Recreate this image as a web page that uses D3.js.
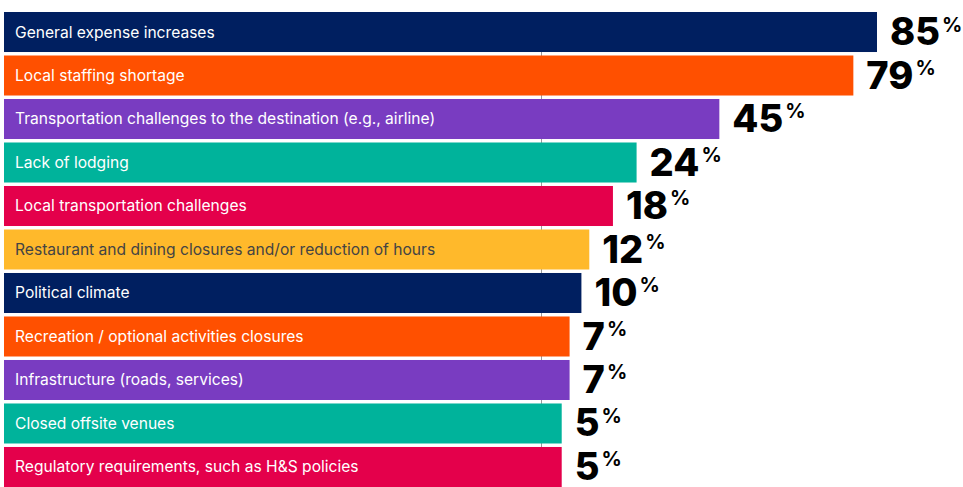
<!DOCTYPE html>
<html>
<head>
<meta charset="utf-8">
<script src="https://cdn.jsdelivr.net/npm/d3@7"></script>
<style>
  html, body { margin: 0; padding: 0; background: #fff; }
  svg { display: block; }
</style>
</head>
<body>
<svg id="chart" width="963" height="487"></svg>
<script>
// Share of respondents naming each challenge
const categories = [
  "General expense increases",
  "Local staffing shortage",
  "Transportation challenges to the destination (e.g., airline)",
  "Lack of lodging",
  "Local transportation challenges",
  "Restaurant and dining closures and/or reduction of hours",
  "Political climate",
  "Recreation / optional activities closures",
  "Infrastructure (roads, services)",
  "Closed offsite venues",
  "Regulatory requirements, such as H&S policies"
];
const values = [85, 79, 45, 24, 18, 12, 10, 7, 7, 5, 5];
const palette = ["#001F60", "#FF5000", "#793CC1", "#00B39B", "#E4004B", "#FFB92B"];
const barColors = [0, 1, 2, 3, 4, 5, 0, 1, 2, 3, 4].map(i => palette[i]);

const W = 963, H = 487;
const svg = d3.select("#chart");

const barLeft = 4;          // bars start under their own labels
const y = d3.scaleBand()
  .domain(categories)
  .range([12, 487])
  .paddingInner(0.08)
  .paddingOuter(0);

// value axis: zero sits past the label zone
const x = d3.scaleLinear().domain([0, 85]).range([542, 877]);

// zero reference line
svg.append("line")
  .attr("x1", Math.round(x(0)) - 0.5).attr("x2", Math.round(x(0)) - 0.5)
  .attr("y1", y.range()[0]).attr("y2", H)
  .attr("stroke", "#9a9a9a").attr("stroke-width", 1);

const rows = svg.selectAll("g.row")
  .data(categories.map((c, i) => ({ c, v: values[i], color: barColors[i] })))
  .join("g").attr("class", "row")
  .attr("transform", d => `translate(0,${y(d.c)})`);

rows.append("rect")
  .attr("x", barLeft)
  .attr("y", 0)
  .attr("height", y.bandwidth())
  .attr("width", d => x(d.v) - barLeft)
  .attr("fill", d => d.color);

rows.append("text")
  .attr("x", 15)
  .attr("y", y.bandwidth() / 2 + 5.5)
  .attr("font-family", "Inter, 'Noto Sans', sans-serif")
  .attr("font-size", 15.6)
  .attr("fill", d => d.color === "#FFB92B" ? "#444444" : "#ffffff")
  .text(d => d.c);

const vlab = rows.append("text")
  .attr("x", d => x(d.v) + 13)
  .attr("y", y.bandwidth() / 2 + 13)
  .attr("font-family", "Inter, 'Liberation Sans', sans-serif")
  .attr("font-weight", 800)
  .attr("fill", "#000");

vlab.append("tspan")
  .attr("font-size", 38)
  .text(d => d.v);
vlab.append("tspan")
  .attr("font-size", 20)
  .attr("font-weight", 700)
  .attr("dx", 2)
  .attr("dy", -13.5)
  .text("%");
</script>
</body>
</html>
